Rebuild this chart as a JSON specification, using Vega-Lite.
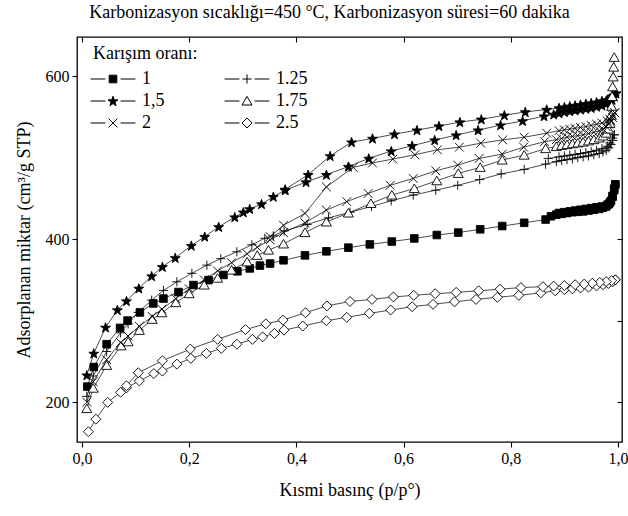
{
"$schema":"https://vega.github.io/schema/vega-lite/v6.json",
"width":545,"height":405,"autosize":"none",
"padding":{"left":77,"top":37,"right":6,"bottom":74},
"background":"white",
"config":{"font":"Liberation Serif","view":{"stroke":"black","strokeWidth":1.3},
"axis":{"domain":false,"grid":false,"labelColor":"black","tickColor":"black","titleColor":"black","labelFont":"Liberation Serif","titleFont":"Liberation Serif","titleFontWeight":"normal","labelFontSize":16,"titleFontSize":18,"tickWidth":1.1}},
"title":{"text":"Karbonizasyon sıcaklığı=450 °C, Karbonizasyon süresi=60 dakika","fontSize":18,"fontWeight":"normal","font":"Liberation Serif","color":"black","anchor":"middle","offset":14,"dx":-20},
"data":{"values":[
{"s":"1","b":"a","p":0.01,"v":219},{"s":"1","b":"a","p":0.022,"v":243},{"s":"1","b":"a","p":0.046,"v":271},{"s":"1","b":"a","p":0.071,"v":291},{"s":"1","b":"a","p":0.085,"v":300},{"s":"1","b":"a","p":0.108,"v":310},{"s":"1","b":"a","p":0.133,"v":321},{"s":"1","b":"a","p":0.152,"v":327},{"s":"1","b":"a","p":0.18,"v":335},{"s":"1","b":"a","p":0.208,"v":343.6},{"s":"1","b":"a","p":0.236,"v":349.7},{"s":"1","b":"a","p":0.264,"v":356},{"s":"1","b":"a","p":0.29,"v":360.5},{"s":"1","b":"a","p":0.313,"v":364},{"s":"1","b":"a","p":0.332,"v":367.5},{"s":"1","b":"a","p":0.351,"v":370},{"s":"1","b":"a","p":0.376,"v":374},{"s":"1","b":"a","p":0.416,"v":380},{"s":"1","b":"a","p":0.456,"v":385},{"s":"1","b":"a","p":0.497,"v":389.5},{"s":"1","b":"a","p":0.537,"v":393.5},{"s":"1","b":"a","p":0.578,"v":397},{"s":"1","b":"a","p":0.62,"v":400.8},{"s":"1","b":"a","p":0.662,"v":405},{"s":"1","b":"a","p":0.702,"v":408},{"s":"1","b":"a","p":0.743,"v":412},{"s":"1","b":"a","p":0.784,"v":416},{"s":"1","b":"a","p":0.825,"v":420},{"s":"1","b":"a","p":0.865,"v":424},{"s":"1","b":"a","p":0.875,"v":428},{"s":"1","b":"a","p":0.885,"v":430},{"s":"1","b":"a","p":0.895,"v":431},{"s":"1","b":"a","p":0.905,"v":432},{"s":"1","b":"a","p":0.915,"v":433},{"s":"1","b":"a","p":0.925,"v":433.5},{"s":"1","b":"a","p":0.935,"v":434},{"s":"1","b":"a","p":0.945,"v":435},{"s":"1","b":"a","p":0.955,"v":436},{"s":"1","b":"a","p":0.965,"v":437},{"s":"1","b":"a","p":0.972,"v":438.5},{"s":"1","b":"a","p":0.978,"v":440},{"s":"1","b":"a","p":0.983,"v":443},{"s":"1","b":"a","p":0.987,"v":447},{"s":"1","b":"a","p":0.99,"v":453},{"s":"1","b":"a","p":0.993,"v":460},{"s":"1","b":"a","p":0.995,"v":467},
{"s":"1","b":"d","p":0.995,"v":467},{"s":"1","b":"d","p":0.993,"v":462},{"s":"1","b":"d","p":0.99,"v":452},{"s":"1","b":"d","p":0.985,"v":445},{"s":"1","b":"d","p":0.98,"v":442},{"s":"1","b":"d","p":0.97,"v":440},{"s":"1","b":"d","p":0.96,"v":439},{"s":"1","b":"d","p":0.95,"v":438},{"s":"1","b":"d","p":0.94,"v":437},{"s":"1","b":"d","p":0.93,"v":436},{"s":"1","b":"d","p":0.92,"v":435},{"s":"1","b":"d","p":0.91,"v":434},{"s":"1","b":"d","p":0.9,"v":433},{"s":"1","b":"d","p":0.89,"v":432},
{"s":"1.25","b":"a","p":0.009,"v":207},{"s":"1.25","b":"a","p":0.021,"v":232},{"s":"1.25","b":"a","p":0.046,"v":262},{"s":"1.25","b":"a","p":0.072,"v":285},{"s":"1.25","b":"a","p":0.086,"v":296},{"s":"1.25","b":"a","p":0.105,"v":310},{"s":"1.25","b":"a","p":0.13,"v":325},{"s":"1.25","b":"a","p":0.152,"v":337},{"s":"1.25","b":"a","p":0.177,"v":347.6},{"s":"1.25","b":"a","p":0.205,"v":358},{"s":"1.25","b":"a","p":0.233,"v":368},{"s":"1.25","b":"a","p":0.259,"v":376},{"s":"1.25","b":"a","p":0.289,"v":384.4},{"s":"1.25","b":"a","p":0.317,"v":393},{"s":"1.25","b":"a","p":0.341,"v":401},{"s":"1.25","b":"a","p":0.357,"v":404},{"s":"1.25","b":"a","p":0.377,"v":410},{"s":"1.25","b":"a","p":0.42,"v":418},{"s":"1.25","b":"a","p":0.46,"v":426},{"s":"1.25","b":"a","p":0.5,"v":433},{"s":"1.25","b":"a","p":0.54,"v":440},{"s":"1.25","b":"a","p":0.577,"v":447},{"s":"1.25","b":"a","p":0.618,"v":454},{"s":"1.25","b":"a","p":0.66,"v":460},{"s":"1.25","b":"a","p":0.701,"v":466},{"s":"1.25","b":"a","p":0.742,"v":473},{"s":"1.25","b":"a","p":0.782,"v":480},{"s":"1.25","b":"a","p":0.825,"v":485.5},{"s":"1.25","b":"a","p":0.865,"v":492},{"s":"1.25","b":"a","p":0.885,"v":495},{"s":"1.25","b":"a","p":0.895,"v":496.5},{"s":"1.25","b":"a","p":0.905,"v":497.5},{"s":"1.25","b":"a","p":0.915,"v":498.5},{"s":"1.25","b":"a","p":0.925,"v":500},{"s":"1.25","b":"a","p":0.935,"v":501},{"s":"1.25","b":"a","p":0.945,"v":502},{"s":"1.25","b":"a","p":0.955,"v":503.5},{"s":"1.25","b":"a","p":0.965,"v":505},{"s":"1.25","b":"a","p":0.972,"v":507},{"s":"1.25","b":"a","p":0.978,"v":509},{"s":"1.25","b":"a","p":0.983,"v":512},{"s":"1.25","b":"a","p":0.987,"v":516},{"s":"1.25","b":"a","p":0.99,"v":521},{"s":"1.25","b":"a","p":0.993,"v":528},
{"s":"1.25","b":"d","p":0.993,"v":528},{"s":"1.25","b":"d","p":0.99,"v":524},{"s":"1.25","b":"d","p":0.985,"v":518},{"s":"1.25","b":"d","p":0.98,"v":514},{"s":"1.25","b":"d","p":0.97,"v":511},{"s":"1.25","b":"d","p":0.96,"v":509},{"s":"1.25","b":"d","p":0.95,"v":507.5},{"s":"1.25","b":"d","p":0.94,"v":506},{"s":"1.25","b":"d","p":0.93,"v":505},{"s":"1.25","b":"d","p":0.92,"v":504},{"s":"1.25","b":"d","p":0.91,"v":503},{"s":"1.25","b":"d","p":0.9,"v":502},{"s":"1.25","b":"d","p":0.89,"v":501},{"s":"1.25","b":"d","p":0.87,"v":499},
{"s":"1,5","b":"a","p":0.009,"v":233},{"s":"1,5","b":"a","p":0.022,"v":259.7},{"s":"1,5","b":"a","p":0.044,"v":291.6},{"s":"1,5","b":"a","p":0.066,"v":313},{"s":"1,5","b":"a","p":0.083,"v":324},{"s":"1,5","b":"a","p":0.106,"v":339.5},{"s":"1,5","b":"a","p":0.13,"v":354.6},{"s":"1,5","b":"a","p":0.15,"v":366},{"s":"1,5","b":"a","p":0.174,"v":377},{"s":"1,5","b":"a","p":0.204,"v":392},{"s":"1,5","b":"a","p":0.229,"v":403},{"s":"1,5","b":"a","p":0.255,"v":415},{"s":"1,5","b":"a","p":0.285,"v":427},{"s":"1,5","b":"a","p":0.301,"v":433},{"s":"1,5","b":"a","p":0.313,"v":437},{"s":"1,5","b":"a","p":0.335,"v":443},{"s":"1,5","b":"a","p":0.357,"v":452},{"s":"1,5","b":"a","p":0.379,"v":460},{"s":"1,5","b":"a","p":0.418,"v":470},{"s":"1,5","b":"a","p":0.456,"v":479},{"s":"1,5","b":"a","p":0.497,"v":489},{"s":"1,5","b":"a","p":0.535,"v":499},{"s":"1,5","b":"a","p":0.577,"v":508},{"s":"1,5","b":"a","p":0.616,"v":514.6},{"s":"1,5","b":"a","p":0.658,"v":521.5},{"s":"1,5","b":"a","p":0.698,"v":527.6},{"s":"1,5","b":"a","p":0.739,"v":533.7},{"s":"1,5","b":"a","p":0.781,"v":539.9},{"s":"1,5","b":"a","p":0.822,"v":545},{"s":"1,5","b":"a","p":0.862,"v":550.9},{"s":"1,5","b":"a","p":0.88,"v":553},{"s":"1,5","b":"a","p":0.89,"v":554.5},{"s":"1,5","b":"a","p":0.9,"v":556},{"s":"1,5","b":"a","p":0.91,"v":557},{"s":"1,5","b":"a","p":0.92,"v":558},{"s":"1,5","b":"a","p":0.93,"v":559},{"s":"1,5","b":"a","p":0.94,"v":560},{"s":"1,5","b":"a","p":0.95,"v":561},{"s":"1,5","b":"a","p":0.96,"v":562.5},{"s":"1,5","b":"a","p":0.97,"v":564},{"s":"1,5","b":"a","p":0.978,"v":566},{"s":"1,5","b":"a","p":0.984,"v":568.5},{"s":"1,5","b":"a","p":0.989,"v":571},{"s":"1,5","b":"a","p":0.993,"v":575},{"s":"1,5","b":"a","p":0.996,"v":579},
{"s":"1,5","b":"d","p":0.996,"v":579},{"s":"1,5","b":"d","p":0.99,"v":575.5},{"s":"1,5","b":"d","p":0.985,"v":573},{"s":"1,5","b":"d","p":0.98,"v":571},{"s":"1,5","b":"d","p":0.97,"v":569.5},{"s":"1,5","b":"d","p":0.96,"v":568},{"s":"1,5","b":"d","p":0.95,"v":567},{"s":"1,5","b":"d","p":0.94,"v":566},{"s":"1,5","b":"d","p":0.93,"v":565},{"s":"1,5","b":"d","p":0.92,"v":564},{"s":"1,5","b":"d","p":0.91,"v":563},{"s":"1,5","b":"d","p":0.9,"v":562},{"s":"1,5","b":"d","p":0.89,"v":561},{"s":"1,5","b":"d","p":0.867,"v":559},{"s":"1,5","b":"d","p":0.827,"v":556},{"s":"1,5","b":"d","p":0.788,"v":552},{"s":"1,5","b":"d","p":0.745,"v":547},{"s":"1,5","b":"d","p":0.705,"v":543.6},{"s":"1,5","b":"d","p":0.666,"v":538.7},{"s":"1,5","b":"d","p":0.625,"v":533.7},{"s":"1,5","b":"d","p":0.583,"v":528.8},{"s":"1,5","b":"d","p":0.542,"v":523.5},{"s":"1,5","b":"d","p":0.503,"v":519},{"s":"1,5","b":"d","p":0.463,"v":502},{"s":"1,5","b":"d","p":0.422,"v":479},{"s":"1,5","b":"d","p":0.379,"v":461},
{"s":"1.75","b":"a","p":0.009,"v":192},{"s":"1.75","b":"a","p":0.021,"v":217},{"s":"1.75","b":"a","p":0.046,"v":245},{"s":"1.75","b":"a","p":0.073,"v":269},{"s":"1.75","b":"a","p":0.086,"v":274},{"s":"1.75","b":"a","p":0.107,"v":288},{"s":"1.75","b":"a","p":0.131,"v":301.5},{"s":"1.75","b":"a","p":0.149,"v":309.6},{"s":"1.75","b":"a","p":0.175,"v":322},{"s":"1.75","b":"a","p":0.2,"v":333},{"s":"1.75","b":"a","p":0.228,"v":343.6},{"s":"1.75","b":"a","p":0.253,"v":352},{"s":"1.75","b":"a","p":0.279,"v":362},{"s":"1.75","b":"a","p":0.308,"v":372},{"s":"1.75","b":"a","p":0.327,"v":380},{"s":"1.75","b":"a","p":0.348,"v":386.5},{"s":"1.75","b":"a","p":0.376,"v":394},{"s":"1.75","b":"a","p":0.416,"v":408},{"s":"1.75","b":"a","p":0.456,"v":421},{"s":"1.75","b":"a","p":0.497,"v":432},{"s":"1.75","b":"a","p":0.539,"v":443.7},{"s":"1.75","b":"a","p":0.578,"v":454},{"s":"1.75","b":"a","p":0.62,"v":462},{"s":"1.75","b":"a","p":0.662,"v":471.6},{"s":"1.75","b":"a","p":0.702,"v":480.6},{"s":"1.75","b":"a","p":0.743,"v":488},{"s":"1.75","b":"a","p":0.784,"v":497},{"s":"1.75","b":"a","p":0.825,"v":503},{"s":"1.75","b":"a","p":0.865,"v":511},{"s":"1.75","b":"a","p":0.885,"v":513.5},{"s":"1.75","b":"a","p":0.895,"v":515},{"s":"1.75","b":"a","p":0.905,"v":516},{"s":"1.75","b":"a","p":0.915,"v":517},{"s":"1.75","b":"a","p":0.925,"v":518},{"s":"1.75","b":"a","p":0.935,"v":519},{"s":"1.75","b":"a","p":0.945,"v":520.5},{"s":"1.75","b":"a","p":0.955,"v":522},{"s":"1.75","b":"a","p":0.965,"v":524},{"s":"1.75","b":"a","p":0.972,"v":526.5},{"s":"1.75","b":"a","p":0.978,"v":530},{"s":"1.75","b":"a","p":0.982,"v":535},{"s":"1.75","b":"a","p":0.985,"v":542},{"s":"1.75","b":"a","p":0.987,"v":552},{"s":"1.75","b":"a","p":0.988,"v":563},{"s":"1.75","b":"a","p":0.989,"v":575},{"s":"1.75","b":"a","p":0.99,"v":587},{"s":"1.75","b":"a","p":0.991,"v":599},{"s":"1.75","b":"a","p":0.992,"v":611},{"s":"1.75","b":"a","p":0.993,"v":623},
{"s":"2","b":"a","p":0.009,"v":200},{"s":"2","b":"a","p":0.021,"v":225},{"s":"2","b":"a","p":0.046,"v":252},{"s":"2","b":"a","p":0.072,"v":273},{"s":"2","b":"a","p":0.086,"v":281},{"s":"2","b":"a","p":0.107,"v":293},{"s":"2","b":"a","p":0.131,"v":305},{"s":"2","b":"a","p":0.149,"v":314},{"s":"2","b":"a","p":0.175,"v":327},{"s":"2","b":"a","p":0.2,"v":339},{"s":"2","b":"a","p":0.228,"v":350},{"s":"2","b":"a","p":0.253,"v":361},{"s":"2","b":"a","p":0.279,"v":371},{"s":"2","b":"a","p":0.308,"v":382},{"s":"2","b":"a","p":0.327,"v":390},{"s":"2","b":"a","p":0.351,"v":399},{"s":"2","b":"a","p":0.376,"v":408},{"s":"2","b":"a","p":0.416,"v":420},{"s":"2","b":"a","p":0.456,"v":435.6},{"s":"2","b":"a","p":0.494,"v":446},{"s":"2","b":"a","p":0.534,"v":456},{"s":"2","b":"a","p":0.575,"v":466},{"s":"2","b":"a","p":0.618,"v":474.4},{"s":"2","b":"a","p":0.66,"v":483.8},{"s":"2","b":"a","p":0.701,"v":490.8},{"s":"2","b":"a","p":0.741,"v":499},{"s":"2","b":"a","p":0.784,"v":504.3},{"s":"2","b":"a","p":0.824,"v":512.8},{"s":"2","b":"a","p":0.863,"v":519.6},{"s":"2","b":"a","p":0.885,"v":522},{"s":"2","b":"a","p":0.895,"v":523.5},{"s":"2","b":"a","p":0.905,"v":525},{"s":"2","b":"a","p":0.915,"v":526},{"s":"2","b":"a","p":0.925,"v":527},{"s":"2","b":"a","p":0.935,"v":528},{"s":"2","b":"a","p":0.945,"v":529.5},{"s":"2","b":"a","p":0.955,"v":531},{"s":"2","b":"a","p":0.965,"v":533},{"s":"2","b":"a","p":0.972,"v":535},{"s":"2","b":"a","p":0.978,"v":538},{"s":"2","b":"a","p":0.983,"v":541},{"s":"2","b":"a","p":0.987,"v":545},{"s":"2","b":"a","p":0.99,"v":549},{"s":"2","b":"a","p":0.994,"v":555},
{"s":"2","b":"d","p":0.994,"v":555},{"s":"2","b":"d","p":0.99,"v":552},{"s":"2","b":"d","p":0.985,"v":547},{"s":"2","b":"d","p":0.98,"v":545},{"s":"2","b":"d","p":0.97,"v":542.5},{"s":"2","b":"d","p":0.96,"v":541},{"s":"2","b":"d","p":0.95,"v":539.5},{"s":"2","b":"d","p":0.94,"v":538},{"s":"2","b":"d","p":0.93,"v":537},{"s":"2","b":"d","p":0.92,"v":536},{"s":"2","b":"d","p":0.91,"v":535},{"s":"2","b":"d","p":0.9,"v":534},{"s":"2","b":"d","p":0.89,"v":533},{"s":"2","b":"d","p":0.867,"v":530},{"s":"2","b":"d","p":0.825,"v":525},{"s":"2","b":"d","p":0.785,"v":521.7},{"s":"2","b":"d","p":0.744,"v":517.7},{"s":"2","b":"d","p":0.704,"v":512.8},{"s":"2","b":"d","p":0.663,"v":509.6},{"s":"2","b":"d","p":0.621,"v":503.5},{"s":"2","b":"d","p":0.58,"v":498.2},{"s":"2","b":"d","p":0.542,"v":493.4},{"s":"2","b":"d","p":0.506,"v":488},{"s":"2","b":"d","p":0.456,"v":464},{"s":"2","b":"d","p":0.416,"v":431.5},{"s":"2","b":"d","p":0.376,"v":417},{"s":"2","b":"d","p":0.351,"v":403},
{"s":"2.5","b":"a","p":0.012,"v":163.6},{"s":"2.5","b":"a","p":0.026,"v":179},{"s":"2.5","b":"a","p":0.048,"v":199.6},{"s":"2.5","b":"a","p":0.072,"v":212},{"s":"2.5","b":"a","p":0.083,"v":217.5},{"s":"2.5","b":"a","p":0.107,"v":226},{"s":"2.5","b":"a","p":0.134,"v":235},{"s":"2.5","b":"a","p":0.15,"v":238},{"s":"2.5","b":"a","p":0.177,"v":246.6},{"s":"2.5","b":"a","p":0.203,"v":253.6},{"s":"2.5","b":"a","p":0.232,"v":259.7},{"s":"2.5","b":"a","p":0.26,"v":265.9},{"s":"2.5","b":"a","p":0.289,"v":271},{"s":"2.5","b":"a","p":0.318,"v":277},{"s":"2.5","b":"a","p":0.337,"v":280},{"s":"2.5","b":"a","p":0.359,"v":284.3},{"s":"2.5","b":"a","p":0.377,"v":288.3},{"s":"2.5","b":"a","p":0.412,"v":293.3},{"s":"2.5","b":"a","p":0.456,"v":299.8},{"s":"2.5","b":"a","p":0.494,"v":304},{"s":"2.5","b":"a","p":0.536,"v":308.8},{"s":"2.5","b":"a","p":0.576,"v":313},{"s":"2.5","b":"a","p":0.616,"v":317},{"s":"2.5","b":"a","p":0.655,"v":320},{"s":"2.5","b":"a","p":0.695,"v":323},{"s":"2.5","b":"a","p":0.735,"v":326},{"s":"2.5","b":"a","p":0.775,"v":328.6},{"s":"2.5","b":"a","p":0.815,"v":331},{"s":"2.5","b":"a","p":0.856,"v":334},{"s":"2.5","b":"a","p":0.883,"v":336.5},{"s":"2.5","b":"a","p":0.9,"v":338},{"s":"2.5","b":"a","p":0.915,"v":339},{"s":"2.5","b":"a","p":0.93,"v":340},{"s":"2.5","b":"a","p":0.945,"v":341},{"s":"2.5","b":"a","p":0.96,"v":342.5},{"s":"2.5","b":"a","p":0.972,"v":344},{"s":"2.5","b":"a","p":0.982,"v":345.5},{"s":"2.5","b":"a","p":0.99,"v":347.5},{"s":"2.5","b":"a","p":0.995,"v":350},
{"s":"2.5","b":"d","p":0.995,"v":350},{"s":"2.5","b":"d","p":0.988,"v":349},{"s":"2.5","b":"d","p":0.978,"v":347.8},{"s":"2.5","b":"d","p":0.966,"v":346.8},{"s":"2.5","b":"d","p":0.952,"v":345.8},{"s":"2.5","b":"d","p":0.937,"v":344.8},{"s":"2.5","b":"d","p":0.92,"v":344},{"s":"2.5","b":"d","p":0.9,"v":343},{"s":"2.5","b":"d","p":0.88,"v":342.3},{"s":"2.5","b":"d","p":0.86,"v":341.6},{"s":"2.5","b":"d","p":0.819,"v":340.5},{"s":"2.5","b":"d","p":0.78,"v":338.5},{"s":"2.5","b":"d","p":0.74,"v":336.6},{"s":"2.5","b":"d","p":0.698,"v":334.6},{"s":"2.5","b":"d","p":0.659,"v":333},{"s":"2.5","b":"d","p":0.619,"v":331},{"s":"2.5","b":"d","p":0.581,"v":329},{"s":"2.5","b":"d","p":0.541,"v":326},{"s":"2.5","b":"d","p":0.5,"v":323.5},{"s":"2.5","b":"d","p":0.457,"v":318},{"s":"2.5","b":"d","p":0.417,"v":309.6},{"s":"2.5","b":"d","p":0.375,"v":300.6},{"s":"2.5","b":"d","p":0.343,"v":296},{"s":"2.5","b":"d","p":0.305,"v":289},{"s":"2.5","b":"d","p":0.253,"v":277},{"s":"2.5","b":"d","p":0.202,"v":265},{"s":"2.5","b":"d","p":0.15,"v":250.7},{"s":"2.5","b":"d","p":0.105,"v":236},{"s":"2.5","b":"d","p":0.083,"v":220}
]},
"layer":[
{"mark":{"type":"line","color":"black","strokeWidth":0.7},
"encoding":{
"x":{"field":"p","type":"quantitative","scale":{"domain":[-0.0093,1.0075],"nice":false,"zero":false},
"axis":{"orient":"bottom","values":[0,0.2,0.4,0.6,0.8,1],"tickSize":5,"labelPadding":3,"labelExpr":"replace(format(datum.value,'.1f'),'.',',')","title":"Kısmi basınç (p/p°)","titlePadding":15}},
"y":{"field":"v","type":"quantitative","scale":{"domain":[151,648],"nice":false,"zero":false},
"axis":{"orient":"left","values":[200,400,600],"tickSize":5,"labelPadding":3,"title":"Adsorplanan miktar (cm³/g STP)","titlePadding":12}},
"detail":[{"field":"s"},{"field":"b"}]}},
{"mark":{"type":"point","stroke":"black","strokeWidth":0.9,"size":64,"opacity":1},
"encoding":{
"x":{"field":"p","type":"quantitative","axis":{"orient":"top","values":[0,0.2,0.4,0.6,0.8,1],"tickSize":-5,"labels":false,"title":null}},
"y":{"field":"v","type":"quantitative","axis":{"orient":"right","values":[200,300,400,500,600],"tickSize":-5,"labels":false,"title":null}},
"shape":{"field":"s","type":"nominal","legend":null,"scale":{"domain":["1","1.25","1,5","1.75","2","2.5"],"range":["M-0.95,-0.95H0.95V0.95H-0.95Z","M-1.15,0H1.15M0,-1.15V1.15","M0,-1.18L0.306,-0.301L1.236,-0.282L0.494,0.281L0.764,1.172L0,0.64L-0.764,1.172L-0.494,0.281L-1.236,-0.282L-0.306,-0.301Z","M0,-1.15L1.25,1L-1.25,1Z","M-1.1,-1.1L1.1,1.1M-1.1,1.1L1.1,-1.1","M0,-1.25L1.25,0L0,1.25L-1.25,0Z"]}},
"fill":{"field":"s","type":"nominal","legend":null,"scale":{"domain":["1","1.25","1,5","1.75","2","2.5"],"range":["black","white","black","white","white","white"]}}}},
{"mark":{"type":"point","strokeWidth":1,"size":64,"opacity":0},
"encoding":{
"x":{"field":"p","type":"quantitative","axis":null},
"y":{"field":"v","type":"quantitative","axis":null},
"shape":{"field":"s","type":"nominal","scale":{"domain":["1","1,5","2","1.25","1.75","2.5"],"range":["M-5.6,0H-1.9M1.9,0H5.6M-0.95,-0.95H0.95V0.95H-0.95Z","M-5.6,0H-1.9M1.9,0H5.6M0,-1.18L0.306,-0.301L1.236,-0.282L0.494,0.281L0.764,1.172L0,0.64L-0.764,1.172L-0.494,0.281L-1.236,-0.282L-0.306,-0.301Z","M-5.6,0H-1.9M1.9,0H5.6M-1.1,-1.1L1.1,1.1M-1.1,1.1L1.1,-1.1","M-5.6,0H-1.9M1.9,0H5.6M-1.15,0H1.15M0,-1.15V1.15","M-5.6,0H-1.9M1.9,0H5.6M0,-1.15L1.25,1L-1.25,1Z","M-5.6,0H-1.9M1.9,0H5.6M0,-1.25L1.25,0L0,1.25L-1.25,0Z"]},
"legend":{"title":"Karışım oranı:","orient":"none","legendX":16,"legendY":8,"columns":2,"columnPadding":57,"rowPadding":4,"symbolSize":64,"symbolStrokeWidth":1,"symbolOffset":11,"labelOffset":20,"labelFontSize":18,"titleFontSize":18,"titleFontWeight":"normal","labelFont":"Liberation Serif","titleFont":"Liberation Serif","labelColor":"black","titleColor":"black","titlePadding":7,"symbolOpacity":1}},
"fill":{"field":"s","type":"nominal","scale":{"domain":["1","1,5","2","1.25","1.75","2.5"],"range":["black","black","white","white","white","white"]},
"legend":{"title":"Karışım oranı:","orient":"none","legendX":16,"legendY":8,"columns":2,"columnPadding":57,"rowPadding":4,"symbolSize":64,"symbolStrokeWidth":1,"symbolOffset":11,"labelOffset":20,"labelFontSize":18,"titleFontSize":18,"titleFontWeight":"normal","labelFont":"Liberation Serif","titleFont":"Liberation Serif","labelColor":"black","titleColor":"black","titlePadding":7,"symbolOpacity":1}},
"stroke":{"field":"s","type":"nominal","scale":{"domain":["1","1,5","2","1.25","1.75","2.5"],"range":["black","black","black","black","black","black"]},
"legend":{"title":"Karışım oranı:","orient":"none","legendX":16,"legendY":8,"columns":2,"columnPadding":57,"rowPadding":4,"symbolSize":64,"symbolStrokeWidth":1,"symbolOffset":11,"labelOffset":20,"labelFontSize":18,"titleFontSize":18,"titleFontWeight":"normal","labelFont":"Liberation Serif","titleFont":"Liberation Serif","labelColor":"black","titleColor":"black","titlePadding":7,"symbolOpacity":1}}}}
],
"resolve":{"scale":{"shape":"independent","fill":"independent","stroke":"independent"},"axis":{"x":"independent","y":"independent"}}
}
